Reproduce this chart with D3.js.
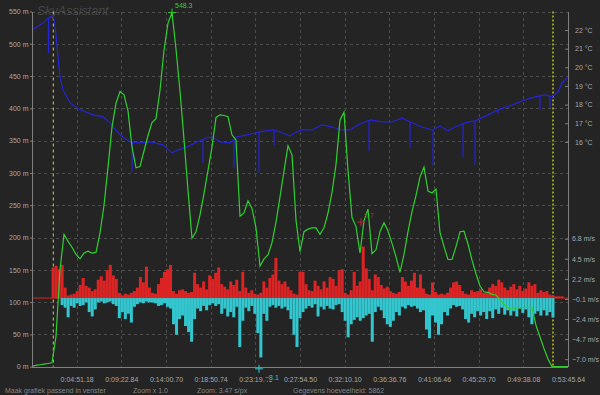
<!DOCTYPE html>
<html>
<head>
<meta charset="utf-8">
<script src="https://cdn.jsdelivr.net/npm/d3@7"></script>
<style>
  html, body { margin: 0; padding: 0; background: #242424; overflow: hidden; }
  svg { display: block; font-family: 'Liberation Sans', Arial, sans-serif; }
</style>
</head>
<body>
<div id="root"></div>
<script>
// flight log: altitude, temperature and vertical speed, plotted against sample number
const sampleCount = 5862;

// time shown under each of the 12 divisions of the x axis
const timeLabels = ['0:04:51.18', '0:09:22.84', '0:14:00.70', '0:18:50.74', '0:23:19.46', '0:27:54.50',
  '0:32:10.10', '0:36:36.76', '0:41:06.46', '0:45:29.70', '0:49:38.08', '0:53:45.64'];

const altitudeTicks = d3.range(0, 551, 50);
const temperatureTicks = [16, 17, 18, 19, 20, 21, 22];
const speedTicks = [-7.0, -4.7, -2.4, -0.1, 2.2, 4.5, 6.8];

// altitude (m), evenly spaced over all samples
const altitude = [1, 2, 3, 4, 5, 6, 47, 150, 205, 194,
  185, 174, 167, 176, 179, 176, 177, 207, 250, 309,
  371, 408, 426, 421, 396, 340, 308, 310, 334, 358,
  378, 384, 428, 490, 532, 548.3, 492, 427, 352, 273,
  199, 209, 235, 268, 304, 340, 386, 390, 389, 387,
  359, 351, 233, 238, 257, 245, 215, 156, 167, 173,
  192, 224, 263, 303, 342, 328, 227, 178, 209, 213,
  215, 215, 205, 215, 238, 270, 313, 382, 394, 304,
  231, 217, 176, 226, 244, 175, 181, 209, 223, 210,
  191, 170, 146, 174, 209, 240, 265, 294, 309, 272,
  269, 275, 208, 186, 166, 166, 186, 209, 210, 190,
  165, 144, 125, 116, 115, 112, 111, 104, 97, 91,
  89, 91, 91, 92, 92, 92, 64, 46, 28, 12,
  0, 0, 0, 0, 0];

// temperature (°C) at sample number
const temperatureSample = [0, 120, 175, 230, 252, 306, 339, 416, 525, 667, 777, 853, 962, 1072, 1181, 1291,
  1433, 1531, 1597, 1695, 1805, 1914, 1980, 2056, 2166, 2242, 2351, 2494, 2636, 2745, 2822, 2898,
  2953, 3062, 3172, 3281, 3390, 3478, 3565, 3697, 3828, 3937, 4047, 4134, 4265, 4375, 4462, 4550,
  4626, 4736, 4845, 4987, 5097, 5250, 5392, 5501, 5611, 5687, 5753, 5797, 5851];
const temperatureValue = [22.0, 22.37, 22.64, 22.8, 22.27, 19.48, 18.79, 18.09, 17.72, 17.45, 17.34, 17.02, 16.38, 16.0, 15.95, 16.0,
  15.84, 15.41, 15.57, 15.73, 16.0, 16.22, 16.27, 16.0, 15.95, 16.27, 16.38, 16.54, 16.64, 16.48, 16.32, 16.54,
  16.64, 16.64, 16.91, 16.8, 16.64, 16.64, 16.91, 17.18, 17.07, 17.07, 17.29, 17.07, 16.8, 16.64, 16.86, 16.59,
  16.8, 17.02, 17.13, 17.45, 17.72, 17.98, 18.25, 18.41, 18.52, 18.41, 18.68, 19.16, 19.43];

// single-sample temperature drop-outs
const dropSample = [180, 1094, 1870, 2209, 2483, 2647, 3686, 4134, 4386, 4714, 4845, 5097, 5556, 5665];
const dropFrom = [22.64, 16.0, 16.11, 16.1, 16.5, 16.64, 17.15, 17.07, 16.64, 16.98, 17.13, 17.72, 18.46, 18.48];
const dropTo = [20.77, 14.39, 14.88, 14.61, 14.34, 15.84, 15.52, 15.68, 14.72, 15.2, 14.77, 17.55, 17.72, 17.82];

// vertical speed (m/s): strongest climb and sink in each column, evenly spaced over all samples
const climb = [0, 0, 0, 0, 0, 0, 0, 3.5, 3.7, 3.3,
  3.8, 1.2, 0.3, 0.4, 0.5, 0.8, 1.5, 2.3, 1.4, 1.2,
  0.8, 1.0, 2.1, 2.5, 2.0, 3.2, 3.8, 2.6, 2.2, 0.6,
  0.3, 0.5, 0.4, 0.6, 0.8, 1.2, 2.4, 1.8, 3.6, 1.2,
  0.6, 0.5, 1.6, 2.3, 3.0, 3.3, 3.8, 0.8, 0.5, 0.9,
  1.0, 0.8, 0.6, 0.7, 2.9, 1.6, 1.2, 1.9, 1.0, 2.6,
  2.2, 2.9, 3.5, 1.6, 1.3, 1.0, 1.9, 1.5, 2.1, 0.8,
  3.0, 1.2, 0.6, 0.9, 0.5, 0.4, 0.6, 1.9, 1.2, 2.3,
  2.7, 4.6, 2.0, 1.6, 1.9, 1.3, 0.9, 0.5, 0.4, 3.0,
  3.0, 1.6, 0.9, 0.8, 2.0, 1.4, 1.0, 1.9, 1.2, 2.4,
  2.2, 1.4, 3.2, 3.3, 0.6, 0.4, 0.9, 3.0, 1.4, 1.9,
  5.9, 3.4, 2.2, 0.9, 2.7, 2.4, 1.5, 1.1, 1.3, 0.8,
  0.6, 0.5, 0.7, 2.4, 1.9, 1.4, 2.0, 2.9, 1.2, 2.7,
  1.1, 0.5, 0.4, 1.8, 0.7, 0.4, 0.5, 0.4, 0.6, 1.2,
  1.8, 1.9, 1.5, 0.8, 0.5, 0.4, 0.9, 0.7, 0.8, 1.0,
  0.6, 0.7, 1.2, 1.6, 1.4, 2.1, 1.8, 1.2, 0.9, 1.3,
  1.6, 1.0, 1.4, 0.8, 1.1, 1.8, 1.4, 1.6, 0.6, 0.9,
  0.7, 0.8, 0.4, 0.3, 0.2, 0.2, 0.2, 0, 0];
const sink = [0, 0, 0, 0, 0, 0, 0, 0, 0, 0,
  -0.8, -1.1, -2.2, -0.9, -1.1, -0.6, -0.9, -0.8, -0.5, -1.6,
  -2.1, -1.3, -0.5, -0.4, -0.6, -0.5, -0.4, -0.7, -0.9, -2.3,
  -1.6, -2.4, -1.8, -2.8, -1.0, -0.7, -0.5, -0.6, -0.4, -0.5,
  -0.5, -0.6, -0.9, -0.8, -0.6, -1.0, -1.2, -3.0, -4.2, -2.4,
  -2.0, -3.2, -3.9, -5.0, -2.4, -1.2, -1.5, -0.9, -1.4, -0.8,
  -0.6, -0.9, -0.7, -1.8, -1.2, -2.1, -1.6, -2.2, -1.0, -5.6,
  -2.6, -1.1, -1.5, -0.9, -1.8, -4.0, -6.8, -1.8, -2.6, -1.0,
  -0.8, -1.1, -0.9, -1.2, -1.0, -1.4, -2.4, -4.2, -5.6, -2.3,
  -1.6, -1.2, -0.9, -1.1, -0.7, -2.1, -1.0, -1.3, -0.9, -1.2,
  -1.3, -0.8, -0.7, -1.6, -2.6, -4.5, -3.0, -2.5, -2.2, -2.6,
  -2.3, -2.0, -1.8, -5.0, -1.6, -1.0, -1.4, -2.3, -3.0, -3.3,
  -2.6, -1.6, -2.0, -1.0, -1.2, -0.8, -1.0, -0.9, -1.2, -1.6,
  -1.4, -3.6, -4.6, -2.0, -2.8, -4.2, -3.0, -1.6, -2.0, -1.2,
  -0.8, -1.0, -0.9, -1.3, -2.4, -2.8, -1.8, -2.2, -1.5, -2.0,
  -1.6, -2.4, -1.5, -2.3, -1.3, -1.8, -1.1, -1.9, -1.4, -2.0,
  -1.5, -2.1, -1.2, -1.7, -1.3, -2.2, -3.0, -1.8, -1.5, -2.0,
  -1.4, -2.0, -1.6, -2.2, 0, 0, 0, 0, 0];

// recorded extremes of vertical speed
const speedPeakSample = [3598, 2483];
const speedPeakValue = [8.7, -8.1];

// launch and landing
const eventSamples = [233, 5698];

const statusTexts = ['Maak grafiek passend in venster', 'Zoom x 1.0', 'Zoom: 3.47 s/px', 'Gegevens hoeveelheid: ' + sampleCount];

const width = 600;
const height = 395;
const plotLeft = 32, plotRight = 568, plotTop = 11.5, plotBottom = 366.7;
const fontFamily = "'Liberation Sans', Arial, sans-serif";

const bg = '#242424';
const gridColor = '#4c4c4c';
const axisColor = '#808080';
const labelColor = '#a8a8a8';
const green = '#2fd02f';
const blue = '#2424d8';
const red = '#dc2424';
const cyan = '#33c6ce';

const svg = d3.select('#root').append('svg')
  .attr('width', width)
  .attr('height', height);

svg.append('rect').attr('width', width).attr('height', height).attr('fill', bg);

const x = d3.scaleLinear().domain([0, sampleCount]).range([plotLeft, plotRight]);
const yAlt = d3.scaleLinear().domain([0, 550]).range([plotBottom, plotTop]);
const yTemp = d3.scaleLinear().domain([16, 22]).range([141.9, 30]);
const ySpeed = d3.scaleLinear().domain([-7.0, 6.8]).range([359.2, 238.7]);

const evenSample = (i, n) => i * sampleCount / (n - 1);

// watermark
svg.append('text')
  .attr('x', 37).attr('y', 14.5)
  .attr('font-size', 12.5)
  .attr('font-style', 'italic')
  .attr('fill', '#474747')
  .text('SkyAssistant');

// grid
const grid = svg.append('g')
  .attr('stroke', gridColor)
  .attr('stroke-dasharray', '3,3')
  .attr('shape-rendering', 'crispEdges');

grid.selectAll('line.h')
  .data(altitudeTicks.filter(d => d > 0))
  .join('line')
  .attr('x1', plotLeft).attr('x2', plotRight)
  .attr('y1', d => Math.round(yAlt(d)) + 0.5)
  .attr('y2', d => Math.round(yAlt(d)) + 0.5);

grid.selectAll('line.v')
  .data(timeLabels.slice(0, -1))
  .join('line')
  .attr('x1', (d, i) => Math.round(x(evenSample(i + 1, 13))) + 0.5)
  .attr('x2', (d, i) => Math.round(x(evenSample(i + 1, 13))) + 0.5)
  .attr('y1', plotTop).attr('y2', plotBottom);

// launch / landing markers
svg.selectAll('line.event')
  .data(eventSamples)
  .join('line')
  .attr('x1', d => x(d)).attr('x2', d => x(d))
  .attr('y1', plotTop).attr('y2', plotBottom)
  .attr('stroke', (d, i) => (i === 0 ? '#d8d050' : '#9a9a22'))
  .attr('stroke-width', (d, i) => (i === 0 ? 1 : 2))
  .attr('stroke-dasharray', (d, i) => (i === 0 ? '3,3' : '2,2'));

// vertical speed
const barW = (x(sampleCount) - x(0)) / (climb.length - 1);
svg.append('line')
  .attr('x1', plotLeft).attr('x2', plotRight)
  .attr('y1', ySpeed(0)).attr('y2', ySpeed(0))
  .attr('stroke', red);

svg.append('g').selectAll('rect')
  .data(climb)
  .join('rect')
  .attr('x', (d, i) => x(evenSample(i, climb.length)) - barW / 2)
  .attr('y', d => ySpeed(d))
  .attr('width', barW)
  .attr('height', d => ySpeed(0) - ySpeed(d))
  .attr('fill', red);

svg.append('g').selectAll('rect')
  .data(sink)
  .join('rect')
  .attr('x', (d, i) => x(evenSample(i, sink.length)) - barW / 2)
  .attr('y', ySpeed(0))
  .attr('width', barW)
  .attr('height', d => ySpeed(d) - ySpeed(0))
  .attr('fill', cyan);

// temperature
const tempLine = d3.line()
  .x(d => x(d[0]))
  .y(d => yTemp(d[1]));

svg.append('path')
  .attr('d', tempLine(d3.zip(temperatureSample, temperatureValue)))
  .attr('fill', 'none')
  .attr('stroke', blue)
  .attr('stroke-width', 1.2);

svg.selectAll('line.drop')
  .data(dropSample)
  .join('line')
  .attr('x1', d => x(d)).attr('x2', d => x(d))
  .attr('y1', (d, i) => yTemp(dropFrom[i]))
  .attr('y2', (d, i) => yTemp(dropTo[i]))
  .attr('stroke', blue)
  .attr('stroke-width', 1.2);

// altitude
const altLine = d3.line()
  .x((d, i) => x(evenSample(i, altitude.length)))
  .y(d => yAlt(d));

svg.append('path')
  .attr('d', altLine(altitude))
  .attr('fill', 'none')
  .attr('stroke', green)
  .attr('stroke-width', 1.2);

// axes
const axisG = svg.append('g');

axisG.append('g')
  .attr('transform', `translate(${plotLeft},0)`)
  .call(d3.axisLeft(yAlt).tickValues(altitudeTicks).tickSize(2).tickPadding(1.5).tickFormat(d => d + ' m'));

axisG.append('g')
  .attr('transform', `translate(${plotRight},0)`)
  .call(d3.axisRight(yTemp).tickValues(temperatureTicks).tickSize(-3).tickPadding(7).tickFormat(d => d + ' °C'));

axisG.append('g')
  .attr('transform', `translate(${plotRight},0)`)
  .call(d3.axisRight(ySpeed).tickValues(speedTicks).tickSize(-3).tickPadding(4).tickFormat(d => d3.format('.1f')(d) + ' m/s'));

const timeScale = d3.scalePoint()
  .domain(timeLabels)
  .range([x(evenSample(1, 13)), plotRight]);

axisG.append('g')
  .attr('transform', `translate(0,${plotBottom})`)
  .call(d3.axisBottom(timeScale).tickSize(0).tickPadding(10));

axisG.selectAll('g').attr('font-size', 7).attr('font-family', fontFamily);
axisG.selectAll('.domain').remove();
axisG.selectAll('text').attr('fill', labelColor);
axisG.selectAll('.tick line').attr('stroke', axisColor);

// axis lines
const axisLines = svg.append('g').attr('stroke', axisColor).attr('shape-rendering', 'crispEdges');
axisLines.append('line').attr('x1', plotLeft).attr('x2', plotLeft).attr('y1', plotTop).attr('y2', plotBottom + 0.5);
axisLines.append('line').attr('x1', plotRight).attr('x2', plotRight).attr('y1', plotTop).attr('y2', plotBottom + 0.5);
axisLines.append('line').attr('x1', plotLeft).attr('x2', plotRight).attr('y1', plotBottom + 0.5).attr('y2', plotBottom + 0.5);

// extreme markers
const plus = (g, cx, cy, color) => {
  g.append('path')
    .attr('d', `M${cx - 4},${cy}H${cx + 4}M${cx},${cy - 4}V${cy + 4}`)
    .attr('stroke', color)
    .attr('stroke-width', 1);
};

const marks = svg.append('g').attr('font-size', 7);

const peakIndex = d3.maxIndex(altitude);
const peakX = x(evenSample(peakIndex, altitude.length));
const peakY = yAlt(altitude[peakIndex]);
plus(marks, peakX, peakY, green);
marks.append('text')
  .attr('x', peakX + 3).attr('y', peakY - 5)
  .attr('fill', green)
  .text(d3.format('.1f')(altitude[peakIndex]));

const speedColors = ['#b03030', cyan];
const labelOffsets = [[3, -4], [6, 11]];
speedPeakSample.forEach((s, i) => {
  const px = x(s);
  const py = ySpeed(speedPeakValue[i]);
  plus(marks, px, py, speedColors[i]);
  const t = marks.append('text')
    .attr('x', px + labelOffsets[i][0])
    .attr('y', py + labelOffsets[i][1])
    .attr('fill', speedColors[i])
    .text(d3.format('.1f')(speedPeakValue[i]));
  if (speedPeakValue[i] < 0) {
    const b = t.node().getBBox();
    marks.insert('rect', () => t.node())
      .attr('x', b.x - 1).attr('y', b.y)
      .attr('width', b.width + 4).attr('height', b.height)
      .attr('fill', bg);
  }
});

// status bar
const statusX = [5, 133, 197, 293];
svg.append('g')
  .selectAll('text')
  .data(statusTexts)
  .join('text')
  .attr('x', (d, i) => statusX[i])
  .attr('y', 392.5)
  .attr('font-size', 7)
  .attr('fill', '#858585')
  .text(d => d);
</script>
</body>
</html>
